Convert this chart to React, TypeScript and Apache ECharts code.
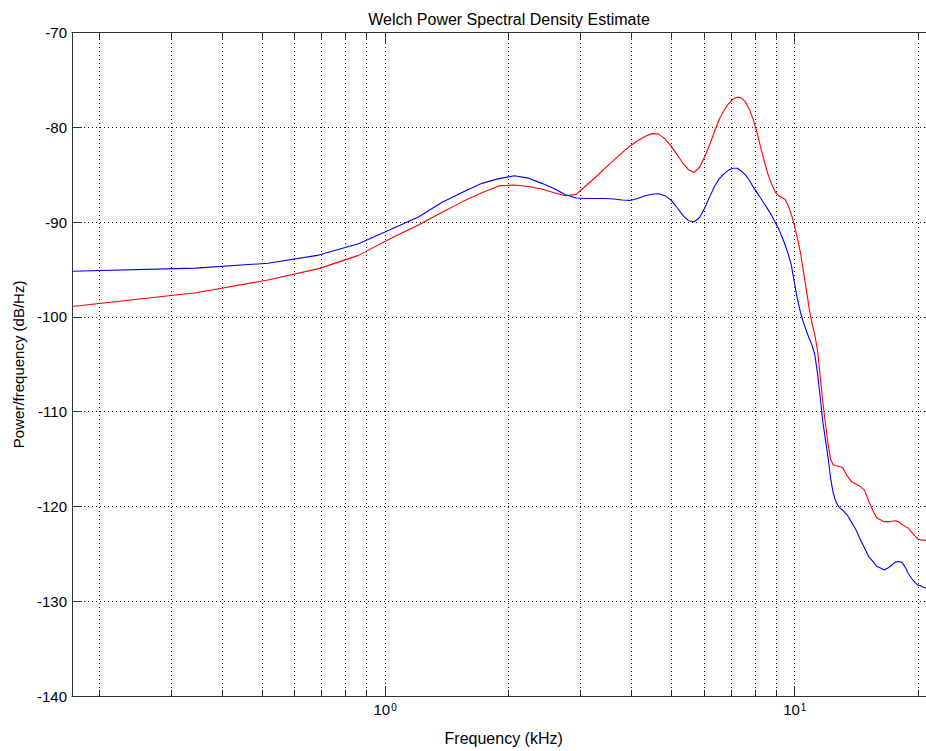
import React, { useEffect, useRef } from "react";
import * as echarts from "echarts";

// Frequency bins (kHz) of the Welch estimate
const freqs = [
  0.172, 0.345, 0.517, 0.689, 0.861, 1.034, 1.206, 1.378, 1.55, 1.723,
  1.895, 2.067, 2.239, 2.412, 2.584, 2.756, 2.929, 3.101, 3.273, 3.445,
  3.618, 3.79, 3.962, 4.134, 4.307, 4.479, 4.651, 4.823, 4.996, 5.168,
  5.34, 5.513, 5.685, 5.857, 6.029, 6.202, 6.374, 6.546, 6.718, 6.891,
  7.063, 7.235, 7.407, 7.58, 7.752, 7.924, 8.096, 8.269, 8.441, 8.613,
  8.786, 8.958, 9.13, 9.302, 9.475, 9.647, 9.819, 9.991, 10.164, 10.336,
  10.508, 10.68, 10.853, 11.025, 11.197, 11.37, 11.542, 11.714, 11.886, 12.059,
  12.231, 12.403, 12.575, 12.748, 12.92, 13.092, 13.437, 13.781, 14.126, 14.47,
  14.815, 15.159, 15.504, 15.848, 16.193, 16.538, 16.882, 17.227, 17.571, 17.916,
  18.26, 18.605, 18.949, 19.294, 19.638, 19.983, 20.327, 20.672, 21.016, 21.361,
  21.705, 22.05,
];

// Power/frequency (dB/Hz), red trace
const redValues = [
  -98.89, -97.45, -96.1, -94.9, -93.5, -91.7, -90.3, -88.95, -87.8, -86.9,
  -86.17, -86.08, -86.23, -86.5, -86.9, -87.2, -87.06, -86.1, -85.2, -84.3,
  -83.45, -82.65, -81.95, -81.4, -80.95, -80.65, -80.7, -81.2, -82.0, -82.9,
  -83.8, -84.5, -84.75, -84.2, -83.1, -81.8, -80.4, -79.1, -78.2, -77.5,
  -77.0, -76.8, -76.9, -77.3, -78.1, -79.2, -80.6, -82.2, -83.7, -85.0,
  -86.0, -86.8, -87.2, -87.4, -87.6, -88.3, -89.2, -90.4, -91.8, -93.3,
  -95.3, -97.2, -99.2, -100.7, -101.9, -103.6, -106.3, -109.0, -111.3, -113.4,
  -115.0, -115.6, -115.7, -115.75, -115.8, -115.9, -116.8, -117.4, -117.65, -117.9,
  -118.3, -119.45, -120.4, -121.2, -121.4, -121.6, -121.6, -121.55, -121.5, -121.6,
  -121.9, -122.1, -122.3, -122.7, -123.1, -123.4, -123.55, -123.55, -123.6, -123.6,
  -123.65, -123.7,
];

// Power/frequency (dB/Hz), blue trace
const blueValues = [
  -95.17, -94.85, -94.33, -93.47, -92.27, -90.75, -89.45, -87.9, -86.8, -85.9,
  -85.4, -85.1, -85.35, -85.9, -86.45, -87.1, -87.45, -87.5, -87.5, -87.5,
  -87.55, -87.65, -87.7, -87.5, -87.2, -87.05, -87.0, -87.2, -87.7, -88.5,
  -89.3, -89.85, -89.95, -89.5, -88.5, -87.3, -86.2, -85.4, -84.9, -84.5,
  -84.3, -84.3, -84.6, -85.0, -85.6, -86.3, -86.9, -87.5, -88.1, -88.7,
  -89.3, -90.0, -90.7, -91.5, -92.4, -93.4, -94.6, -96.5, -98.2, -99.6,
  -100.6, -101.5, -102.3, -103.0, -104.0, -106.0, -108.5, -111.1, -113.0, -114.8,
  -117.0, -118.5, -119.4, -119.9, -120.2, -120.4, -120.9, -121.7, -122.5, -123.5,
  -124.4, -125.3, -125.8, -126.3, -126.5, -126.7, -126.5, -126.2, -125.9, -125.8,
  -125.9, -126.4, -127.1, -127.6, -128.0, -128.3, -128.4, -128.55, -128.6, -128.7,
  -128.75, -128.8,
];

const xMin = 0.172;
const xMax = 22.05;
const yMin = -140;
const yMax = -70;
const yStep = 10;

const minorTicks = [0.2, 0.3, 0.4, 0.5, 0.6, 0.7, 0.8, 0.9, 2, 3, 4, 5, 6, 7, 8, 9, 20];
const majorTicks = [1, 10];
const gridXs = [0.2, 0.3, 0.4, 0.5, 0.6, 0.7, 0.8, 0.9, 1, 2, 3, 4, 5, 6, 7, 8, 9, 10, 20];

const FONT = "'Liberation Sans', Arial, Helvetica, sans-serif";

export default function App() {
  const ref = useRef<HTMLDivElement>(null);

  useEffect(() => {
    if (!ref.current) return;
    const chart = echarts.init(ref.current, undefined, { renderer: "svg" });
    const axisColor = "#333";
    const gridStyle = { color: "#1a1a1a", width: 1, type: [1, 3] as any };
    const baseX = {
      type: "log" as const,
      logBase: 10,
      min: xMin,
      max: xMax,
      gridIndex: 0,
      splitLine: { show: false },
      minorSplitLine: { show: false },
    };
    const red = freqs.map((f, i) => [f, redValues[i]]);
    const blue = freqs.map((f, i) => [f, blueValues[i]]);

    chart.setOption({
      animation: false,
      backgroundColor: "#fff",
      title: {
        text: "Welch Power Spectral Density Estimate",
        left: 504,
        top: 6,
        textAlign: "center",
        textStyle: { fontSize: 16, fontWeight: "normal", color: "#000", fontFamily: FONT },
      },
      grid: { left: 72, right: 14.6, top: 32.7, bottom: 52, containLabel: false },
      xAxis: [
        {
          ...baseX,
          position: "bottom",
          name: "Frequency (kHz)",
          nameLocation: "middle",
          nameGap: 34,
          nameTextStyle: { fontSize: 16, color: "#000", fontFamily: FONT },
          axisLine: { show: true, lineStyle: { color: axisColor, width: 1 } },
          axisTick: { show: true, inside: true, length: 6, customValues: minorTicks, lineStyle: { color: axisColor } },
          axisLabel: {
            show: true,
            customValues: majorTicks,
            margin: 6,
            color: "#000",
            fontSize: 15,
            fontFamily: FONT,
            formatter: (v: number) => "10{s|" + Math.round(Math.log10(v)) + "}",
            rich: { s: { fontSize: 10, fontFamily: FONT, color: "#000", verticalAlign: "top", padding: [0, 0, 0, 1] } },
          },
        },
        {
          ...baseX,
          position: "bottom",
          axisLine: { show: false },
          axisTick: { show: true, inside: true, length: 10, customValues: majorTicks, lineStyle: { color: axisColor } },
          axisLabel: { show: false },
        },
        {
          ...baseX,
          position: "top",
          axisLine: { show: true, lineStyle: { color: axisColor, width: 1 } },
          axisTick: { show: true, inside: true, length: 6, customValues: minorTicks, lineStyle: { color: axisColor } },
          axisLabel: { show: false },
        },
        {
          ...baseX,
          position: "top",
          axisLine: { show: false },
          axisTick: { show: true, inside: true, length: 10, customValues: majorTicks, lineStyle: { color: axisColor } },
          axisLabel: { show: false },
        },
      ],
      yAxis: [
        {
          type: "value",
          min: yMin,
          max: yMax,
          interval: yStep,
          position: "left",
          name: "Power/frequency (dB/Hz)",
          nameLocation: "middle",
          nameGap: 45,
          nameRotate: 90,
          nameTextStyle: { fontSize: 15, color: "#000", fontFamily: FONT },
          axisLine: { show: true, lineStyle: { color: axisColor, width: 1 } },
          axisTick: { show: true, inside: true, length: 10, lineStyle: { color: axisColor } },
          axisLabel: { margin: 5, color: "#000", fontSize: 15, fontFamily: FONT },
          splitLine: { show: true, lineStyle: gridStyle },
        },
        {
          type: "value",
          min: yMin,
          max: yMax,
          interval: yStep,
          position: "right",
          axisLine: { show: true, lineStyle: { color: axisColor, width: 1 } },
          axisTick: { show: true, inside: true, length: 10, lineStyle: { color: axisColor } },
          axisLabel: { show: false },
          splitLine: { show: false },
        },
      ],
      series: [
        {
          type: "line",
          data: [],
          xAxisIndex: 0,
          yAxisIndex: 0,
          z: 1,
          silent: true,
          markLine: {
            silent: true,
            symbol: "none",
            animation: false,
            label: { show: false },
            lineStyle: gridStyle,
            emphasis: { disabled: true },
            data: gridXs.map((v) => ({ xAxis: v })),
          },
        },
        {
          type: "line",
          name: "red",
          data: red,
          xAxisIndex: 0,
          yAxisIndex: 0,
          showSymbol: false,
          symbol: "none",
          z: 3,
          lineStyle: { color: "#ff0000", width: 1.1 },
          itemStyle: { color: "#ff0000" },
        },
        {
          type: "line",
          name: "blue",
          data: blue,
          xAxisIndex: 0,
          yAxisIndex: 0,
          showSymbol: false,
          symbol: "none",
          z: 3,
          lineStyle: { color: "#0000ff", width: 1.1 },
          itemStyle: { color: "#0000ff" },
        },
      ],
    });
    return () => chart.dispose();
  }, []);

  return (
    <div
      style={{
        position: "fixed",
        left: 0,
        top: 0,
        width: 926,
        height: 751,
        overflow: "hidden",
        background: "#fff",
      }}
    >
      <div ref={ref} style={{ width: 950, height: 751 }} />
    </div>
  );
}
